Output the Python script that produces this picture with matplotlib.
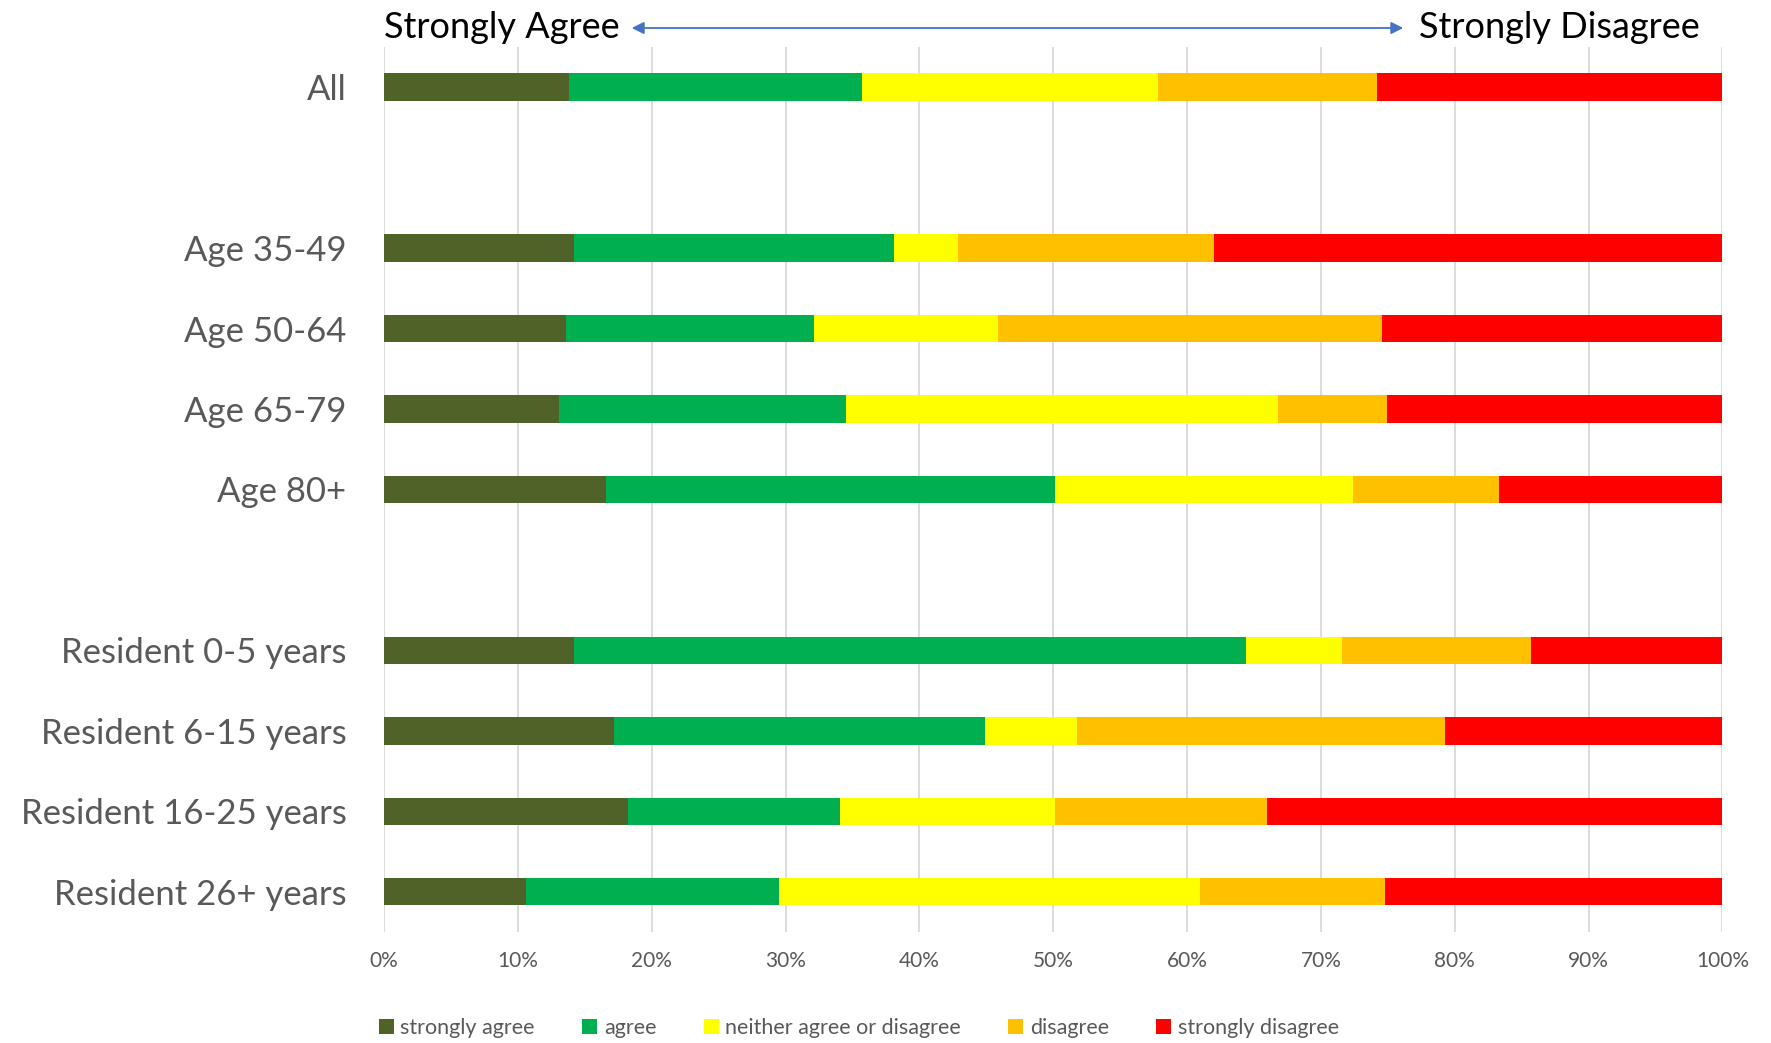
import numpy as np
import matplotlib
matplotlib.use("Agg")
import matplotlib.pyplot as plt

plt.rcParams['font.family'] = ['Lato', 'DejaVu Sans']

# rows from top to bottom, '' = empty spacer row
rows = ["All", "", "Age 35-49", "Age 50-64", "Age 65-79", "Age 80+", "",
        "Resident 0-5 years", "Resident 6-15 years", "Resident 16-25 years",
        "Resident 26+ years"]

# percentages for the non-empty rows, in the same order
strongly_agree = [13.8, 14.2, 13.6, 13.1, 16.6, 14.2, 17.2, 18.2, 10.6]
agree = [21.9, 23.9, 18.5, 21.4, 33.5, 50.2, 27.7, 15.9, 18.9]
neither = [22.1, 4.8, 13.8, 32.3, 22.3, 7.2, 6.9, 16.0, 31.5]
disagree = [16.4, 19.1, 28.7, 8.1, 10.9, 14.1, 27.5, 15.9, 13.8]
strongly_disagree = [25.8, 38.0, 25.4, 25.1, 16.7, 14.3, 20.7, 34.0, 25.2]

series = ["strongly agree", "agree", "neither agree or disagree", "disagree", "strongly disagree"]
colors = ["#4F6228", "#00B050", "#FFFF00", "#FFC000", "#FF0000"]

fig = plt.figure(figsize=(17.71, 10.43), dpi=100)
ax = fig.add_axes([0.2168, 0.1064, 0.7558, 0.8486])

ypos = [i for i, r in enumerate(rows) if r]
data = np.array([strongly_agree, agree, neither, disagree, strongly_disagree])
data = data / data.sum(axis=0) * 100

left = np.zeros(len(ypos))
for vals, name, c in zip(data, series, colors):
    ax.barh(ypos, vals, left=left, height=0.34, color=c, label=name, zorder=3)
    left += vals

ax.set_xlim(0, 100)
ax.set_ylim(len(rows) - 0.5, -0.5)
ax.set_xticks(np.arange(0, 101, 10))
ax.set_xticklabels([f"{v}%" for v in range(0, 101, 10)], fontsize=15, color="#595959")
ax.set_yticks(range(len(rows)))
ax.set_yticklabels(rows, fontsize=25, color="#595959")
ax.tick_params(length=0)
ax.tick_params(axis='x', pad=14)
ax.tick_params(axis='y', pad=27)
ax.grid(axis='x', color="#D9D9D9", linewidth=1.3, zorder=0)
for s in ax.spines.values():
    s.set_visible(False)

# scale annotation above the bars
fig.text(384 / 1771, 1 - 27 / 1043, "Strongly Agree", fontsize=26, color="black",
         ha="left", va="center")
fig.text(1700 / 1771, 1 - 27 / 1043, "Strongly Disagree", fontsize=26, color="black",
         ha="right", va="center")
fig.add_artist(matplotlib.patches.FancyArrowPatch(
    (629 / 1771, 1 - 28 / 1043), (1406 / 1771, 1 - 28 / 1043),
    transform=fig.transFigure, arrowstyle="<|-|>", mutation_scale=18,
    color="#4472C4", linewidth=1.3))

leg = fig.legend(loc="center", bbox_to_anchor=(0.485, 0.014), ncol=5, frameon=False,
                 fontsize=15.5, handlelength=0.7, handleheight=0.7, handletextpad=0.3,
                 columnspacing=2.2)
for t in leg.get_texts():
    t.set_color("#595959")

fig.savefig("out.png", dpi=100)
